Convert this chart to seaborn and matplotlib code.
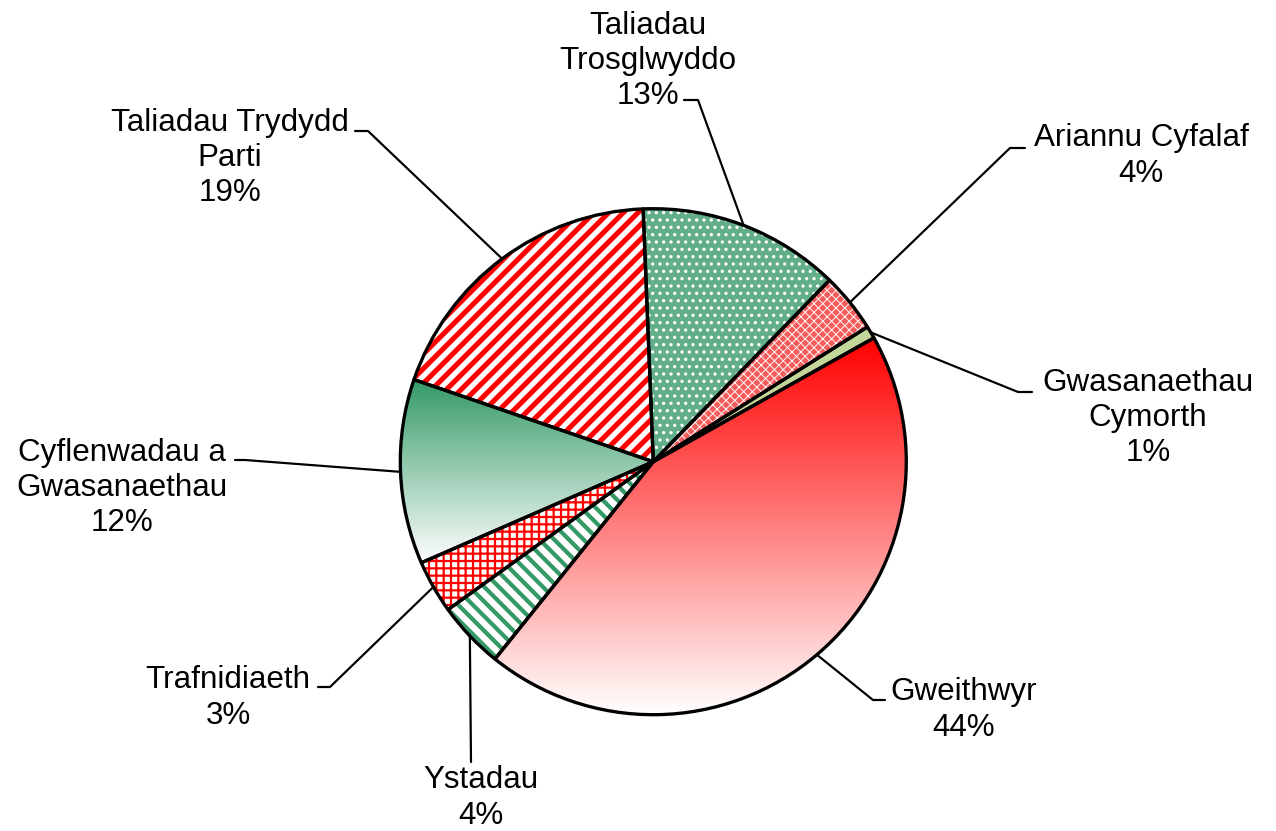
import numpy as np
import matplotlib
matplotlib.use("Agg")
import matplotlib.pyplot as plt
from matplotlib.colors import LinearSegmentedColormap
import seaborn as sns

# ---- dati (ordine orario dall'alto) ----
categories = ["Taliadau\nTrosglwyddo", "Ariannu Cyfalaf", "Gwasanaethau\nCymorth", "Gweithwyr",
              "Ystadau", "Trafnidiaeth", "Cyflenwadau a\nGwasanaethau", "Taliadau Trydydd\nParti"]
shares = [12.9, 3.8, 0.8, 43.9, 4.3, 3.4, 11.8, 19.1]

# ---- layout (pixel) ----
DPI = 132
W, H = 1276, 831
CX, CY, R = 653.3, 461.7, 253.0
START = 92.3
FS = 31.4 * 72 / DPI

label_pos = [(648, 61), (1141, 156), (1148, 418), (964, 710), (481, 798), (228, 698), (122, 488), (230, 158)]
leader_end = [(684, 100), (1025, 148), (1032, 392), (885, 700), (471, 762), (318, 687), (235, 460), (355, 131)]
leader_elbow = [(698, 100), (1010, 148), (1018, 392), (873, 700), (471, 762), (330, 687), (245, 460), (368, 131)]

RED = "#ff0000"
GREEN = "#339966"
styles = [
    dict(face="#62ae88", hatch="...", hcolor="white", hlw=1.0),
    dict(face="#f45c5c", hatch="xxxxx", hcolor="white", hlw=0.5),
    dict(face="#c4d79b"),
    dict(gradient=RED),
    dict(face="white", hatch="\\\\\\", hcolor=GREEN, hlw=2.3),
    dict(face="white", hatch="+++", hcolor=RED, hlw=1.2),
    dict(gradient=GREEN),
    dict(face="white", hatch="///", hcolor=RED, hlw=2.8),
]

sns.set_style("white")
plt.rcParams["font.family"] = ["Liberation Sans", "DejaVu Sans"]


def to_data(x, y):
    return (x - CX) / R, (CY - y) / R


fig = plt.figure(figsize=(W / DPI, H / DPI), dpi=DPI)
ax = fig.add_axes([0, 0, 1, 1])

# riempimenti
wedges, _ = ax.pie(shares, startangle=START, counterclock=False, radius=1,
                   wedgeprops=dict(linewidth=0))
for w, st in zip(wedges, styles):
    if "gradient" in st:
        w.set_facecolor("white")
        cmap = LinearSegmentedColormap.from_list("grad", [st["gradient"], "white"])
        x0, y0, x1, y1 = w.get_path().get_extents().extents
        im = ax.imshow(np.linspace(0, 1, 256).reshape(-1, 1), cmap=cmap, aspect="auto",
                       extent=(x0, x1, y0, y1), origin="upper", interpolation="bilinear", zorder=1.5)
        im.set_clip_path(w)
    else:
        w.set_facecolor(st["face"])
        if st.get("hatch"):
            w.set_hatch(st["hatch"])
            w.set_edgecolor(st["hcolor"])
            if hasattr(w, "set_hatch_linewidth"):
                w.set_hatch_linewidth(st["hlw"])

# contorni neri
ax.pie(shares, startangle=START, counterclock=False, radius=1,
       wedgeprops=dict(facecolor="none", edgecolor="black", linewidth=1.8, joinstyle="round", zorder=3))

# etichette + linee guida
for w, name, v, tp, end, elbow in zip(wedges, categories, shares, label_pos, leader_end, leader_elbow):
    mid = np.deg2rad((w.theta1 + w.theta2) / 2)
    bx, by = to_data(*elbow)
    ex, ey = to_data(*end)
    ax.plot([np.cos(mid), bx, ex], [np.sin(mid), by, ey], color="black", lw=1.2, zorder=4)
    ax.text(*to_data(*tp), f"{name}\n{v:.0f}%", ha="center", va="center",
            fontsize=FS, linespacing=1.22, color="black", zorder=5)

ax.set_xlim(-CX / R, (W - CX) / R)
ax.set_ylim(-(H - CY) / R, CY / R)
ax.set_axis_off()

fig.savefig("out.png", dpi=DPI)
